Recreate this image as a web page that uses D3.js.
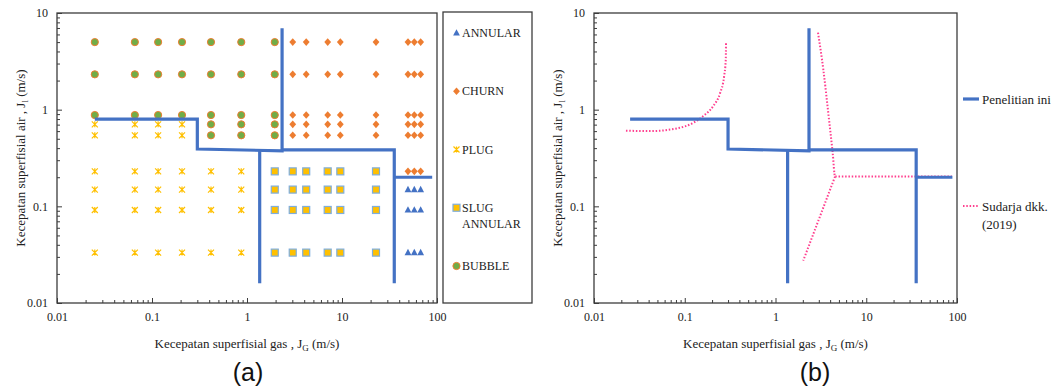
<!DOCTYPE html>
<html>
<head>
<meta charset="utf-8">
<script src="https://cdn.jsdelivr.net/npm/d3@7"></script>
<style>
  body { margin: 0; background: #fff; }
  svg { display: block; }
  svg text { font-family: "Liberation Serif", "Times New Roman", Times, "DejaVu Serif", serif; }
</style>
</head>
<body>
<svg width="1056" height="389"></svg>
<script>
// axis ticks
const xTicks = [0.01, 0.1, 1, 10, 100];
const xTickLabels = ["0.01", "0.1", "1", "10", "100"];
const yTicks = [0.01, 0.1, 1, 10];
const yTickLabels = ["0.01", "0.1", "1", "10"];

// observed regimes: columns of J_G, each with the J_L values measured there
const bubble = [
  {jg: 0.025, jl: [5, 2.32, 0.88]},
  {jg: 0.066, jl: [5, 2.32, 0.88]},
  {jg: 0.116, jl: [5, 2.32, 0.88]},
  {jg: 0.207, jl: [5, 2.32, 0.88]},
  {jg: 0.418, jl: [5, 2.32, 0.88, 0.705, 0.543]},
  {jg: 0.87, jl: [5, 2.32, 0.88, 0.705, 0.543]},
  {jg: 1.96, jl: [5, 2.32, 0.88, 0.705, 0.543]}
];
const plug = [
  {jg: 0.025, jl: [0.705, 0.543, 0.23, 0.149, 0.0917, 0.0332]},
  {jg: 0.066, jl: [0.705, 0.543, 0.23, 0.149, 0.0917, 0.0332]},
  {jg: 0.116, jl: [0.705, 0.543, 0.23, 0.149, 0.0917, 0.0332]},
  {jg: 0.207, jl: [0.705, 0.543, 0.23, 0.149, 0.0917, 0.0332]},
  {jg: 0.418, jl: [0.23, 0.149, 0.0917, 0.0332]},
  {jg: 0.87, jl: [0.23, 0.149, 0.0917, 0.0332]}
];
const slugAnnular = [
  {jg: 1.96, jl: [0.23, 0.149, 0.0917, 0.0332]},
  {jg: 3.03, jl: [0.23, 0.149, 0.0917, 0.0332]},
  {jg: 4.2, jl: [0.23, 0.149, 0.0917, 0.0332]},
  {jg: 7.07, jl: [0.23, 0.149, 0.0917, 0.0332]},
  {jg: 9.6, jl: [0.23, 0.149, 0.0917, 0.0332]},
  {jg: 22.8, jl: [0.23, 0.149, 0.0917, 0.0332]}
];
const churn = [
  {jg: 3.03, jl: [5, 2.32, 0.88, 0.705, 0.543]},
  {jg: 4.2, jl: [5, 2.32, 0.88, 0.705, 0.543]},
  {jg: 7.07, jl: [5, 2.32, 0.88, 0.705, 0.543]},
  {jg: 9.6, jl: [5, 2.32, 0.88, 0.705, 0.543]},
  {jg: 22.8, jl: [5, 2.32, 0.88, 0.705, 0.543]},
  {jg: 49.5, jl: [5, 2.32, 0.88, 0.705, 0.543, 0.23]},
  {jg: 57.7, jl: [5, 2.32, 0.88, 0.705, 0.543, 0.23]},
  {jg: 67.3, jl: [5, 2.32, 0.88, 0.705, 0.543, 0.23]}
];
const annular = [
  {jg: 49.5, jl: [0.149, 0.0917, 0.0332]},
  {jg: 57.7, jl: [0.149, 0.0917, 0.0332]},
  {jg: 67.3, jl: [0.149, 0.0917, 0.0332]}
];

// transition boundaries of this study (Penelitian ini)
const boundaries = [
  [[0.025, 0.8], [0.3, 0.8], [0.3, 0.392], [2.34, 0.375], [2.34, 6.95]],
  [[2.34, 0.383], [35.5, 0.383], [35.5, 0.016]],
  [[1.36, 0.383], [1.36, 0.016]],
  [[35.5, 0.2], [89, 0.2]]
];

// Sudarja dkk. (2019) boundaries
const sudarja = [
  [[0.0225, 0.606], [0.0414, 0.6], [0.0815, 0.64], [0.124, 0.73], [0.16, 0.86], [0.206, 1.09],
   [0.245, 1.48], [0.271, 2.19], [0.283, 3.26], [0.285, 4.93]],
  [[2.94, 6.26], [3.37, 2.57], [3.82, 0.917], [4.27, 0.354], [4.53, 0.203], [88, 0.203]],
  [[4.53, 0.203], [2.02, 0.0274]]
];

const regimes = [
  {name: ["ANNULAR"], data: annular, shape: "triangle"},
  {name: ["CHURN"], data: churn, shape: "diamond"},
  {name: ["PLUG"], data: plug, shape: "x"},
  {name: ["SLUG", "ANNULAR"], data: slugAnnular, shape: "square"},
  {name: ["BUBBLE"], data: bubble, shape: "circle"}
];

const blue = "#4472C4", pink = "#FF3F8E", axisColor = "#3c3c3c";

const svg = d3.select("svg");

function panel(left, right, top, bottom) {
  const x = d3.scaleLog().domain([0.01, 100]).range([left, right]);
  const y = d3.scaleLog().domain([0.01, 10]).range([bottom, top]);
  const minor = d => Math.round(d / Math.pow(10, Math.floor(Math.log10(d) + 1e-9))) !== 1;
  const xMinor = x.ticks().filter(minor);
  const yMinor = y.ticks().filter(minor);

  const g = svg.append("g");
  g.append("g")
    .attr("transform", `translate(0,${bottom})`)
    .call(d3.axisBottom(x).tickValues(xMinor).tickSize(-3).tickFormat(""))
    .call(a => a.select(".domain").remove());
  g.append("g")
    .attr("transform", `translate(0,${bottom})`)
    .call(d3.axisBottom(x).tickValues(xTicks).tickSize(-5).tickPadding(9)
      .tickFormat((d, i) => xTickLabels[i]))
    .call(a => a.select(".domain").remove());
  g.append("g")
    .attr("transform", `translate(${left},0)`)
    .call(d3.axisLeft(y).tickValues(yMinor).tickSize(-3).tickFormat(""))
    .call(a => a.select(".domain").remove());
  g.append("g")
    .attr("transform", `translate(${left},0)`)
    .call(d3.axisLeft(y).tickValues(yTicks).tickSize(-5).tickPadding(9)
      .tickFormat((d, i) => yTickLabels[i]))
    .call(a => a.select(".domain").remove());
  g.selectAll("g").attr("font-family", null);
  g.selectAll(".tick line").attr("stroke", axisColor);
  g.selectAll(".tick text").attr("font-size", 12).attr("fill", "#222");
  g.append("rect")
    .attr("x", left).attr("y", top)
    .attr("width", right - left).attr("height", bottom - top)
    .attr("fill", "none").attr("stroke", axisColor).attr("stroke-width", 1.3);

  // axis titles
  const xt = g.append("text")
    .attr("x", (left + right) / 2).attr("y", bottom + 45)
    .attr("text-anchor", "middle").attr("font-size", 13).attr("fill", "#222");
  xt.append("tspan").text("Kecepatan superfisial gas , J");
  xt.append("tspan").attr("font-size", 9).attr("dy", 3).text("G");
  xt.append("tspan").attr("dy", -3).text(" (m/s)");

  const yt = g.append("text")
    .attr("transform", `translate(${left - 32},${(top + bottom) / 2}) rotate(-90)`)
    .attr("text-anchor", "middle").attr("font-size", 13).attr("fill", "#222");
  yt.append("tspan").text("Kecepatan superfisial air , J");
  yt.append("tspan").attr("font-size", 9).attr("dy", 3).text("l");
  yt.append("tspan").attr("dy", -3).text(" (m/s)");

  return {g, x, y};
}

function marker(sel, shape) {
  if (shape === "circle") {
    sel.append("circle").attr("r", 3.6)
      .attr("fill", "#70AD47").attr("stroke", "#ED7D31").attr("stroke-width", 1);
  } else if (shape === "diamond") {
    sel.append("path").attr("d", "M0,-3.8L3.4,0L0,3.8L-3.4,0Z").attr("fill", "#ED7D31");
  } else if (shape === "square") {
    sel.append("rect").attr("x", -3.5).attr("y", -3.5).attr("width", 7).attr("height", 7)
      .attr("fill", "#FFC000").attr("stroke", "#7FAEDD").attr("stroke-width", 1.2);
  } else if (shape === "triangle") {
    sel.append("path").attr("d", "M0,-3.8L3.4,2.6L-3.4,2.6Z").attr("fill", blue);
  } else {
    sel.append("path").attr("d", "M-3,-3L3,3M-3,3L3,-3M0,-3L0,3")
      .attr("stroke", "#FFC000").attr("stroke-width", 1.2).attr("fill", "none");
  }
}

const line = (x, y) => d3.line().x(d => x(d[0])).y(d => y(d[1]));

// ---------- (a) ----------
const A = panel(57, 437, 13, 303);
regimes.slice().reverse().forEach(r => {
  const pts = r.data.flatMap(c => c.jl.map(v => [c.jg, v]));
  A.g.append("g").selectAll("g")
    .data(pts)
    .join("g")
    .attr("transform", d => `translate(${A.x(d[0])},${A.y(d[1])})`)
    .each(function() { marker(d3.select(this), r.shape); });
});
A.g.append("g").selectAll("path")
  .data(boundaries)
  .join("path")
  .attr("d", line(A.x, A.y))
  .attr("fill", "none").attr("stroke", blue).attr("stroke-width", 3.2);

// legend (a)
const lg = svg.append("g");
lg.append("rect").attr("x", 443).attr("y", 12).attr("width", 89).attr("height", 291)
  .attr("fill", "none").attr("stroke", axisColor).attr("stroke-width", 1.3);
const legY = d3.scalePoint().domain(regimes.map((d, i) => i)).range([33, 266]);
regimes.forEach((r, i) => {
  const gy = legY(i);
  const s = lg.append("g").attr("transform", `translate(456.5,${gy})`);
  marker(s, r.shape);
  r.name.forEach((t, j) => {
    lg.append("text").attr("x", 462).attr("y", gy + 4 + j * 16)
      .attr("font-size", 12).attr("fill", "#222").text(t);
  });
});

// ---------- (b) ----------
const B = panel(594, 957, 13, 303);
B.g.append("g").selectAll("path")
  .data(sudarja)
  .join("path")
  .attr("d", line(B.x, B.y).curve(d3.curveMonotoneX))
  .attr("fill", "none").attr("stroke", pink).attr("stroke-width", 2)
  .attr("stroke-dasharray", "1.5,1.8");
B.g.append("g").selectAll("path")
  .data(boundaries)
  .join("path")
  .attr("d", line(B.x, B.y))
  .attr("fill", "none").attr("stroke", blue).attr("stroke-width", 3.2);

// legend (b)
svg.append("line").attr("x1", 963).attr("x2", 979).attr("y1", 99).attr("y2", 99)
  .attr("stroke", blue).attr("stroke-width", 3.2);
svg.append("text").attr("x", 982).attr("y", 104).attr("font-size", 13).attr("fill", "#222")
  .text("Penelitian ini");
svg.append("line").attr("x1", 963).attr("x2", 979).attr("y1", 206).attr("y2", 206)
  .attr("stroke", pink).attr("stroke-width", 2).attr("stroke-dasharray", "1.5,1.8");
svg.append("text").attr("x", 982).attr("y", 211).attr("font-size", 13).attr("fill", "#222")
  .text("Sudarja dkk.");
svg.append("text").attr("x", 982).attr("y", 229).attr("font-size", 13).attr("fill", "#222")
  .text("(2019)");

// panel captions
svg.selectAll(".cap")
  .data([["(a)", 248], ["(b)", 815]])
  .join("text")
  .attr("x", d => d[1]).attr("y", 381)
  .attr("text-anchor", "middle")
  .style("font-family", "'Liberation Sans', Arial, sans-serif")
  .attr("font-size", 25).attr("fill", "#111")
  .text(d => d[0]);
</script>
</body>
</html>
